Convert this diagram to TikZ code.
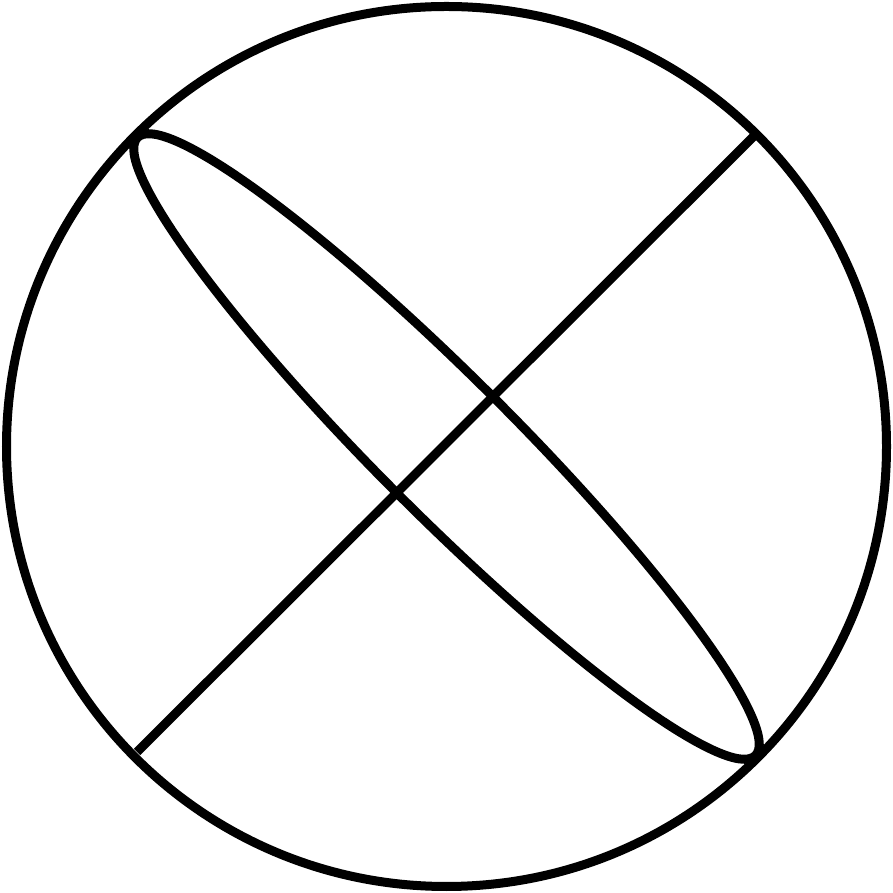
\documentclass[tikz,border=0pt]{standalone}
\begin{document}
\begin{tikzpicture}[x=1pt,y=1pt,shape line/.style={line width=9pt,draw=black}]
\useasboundingbox (0,0) rectangle (893,893);
\coordinate (c) at (446.5,446.5);
\coordinate (la) at (137,141);
\coordinate (lb) at (755,758);
\draw[shape line] (c) circle [radius=440];
\draw[shape line] (la) -- (lb);
\draw[shape line, rotate around={-45:(c)}] (c) ellipse [x radius=437, y radius=68];
\end{tikzpicture}
\end{document}
